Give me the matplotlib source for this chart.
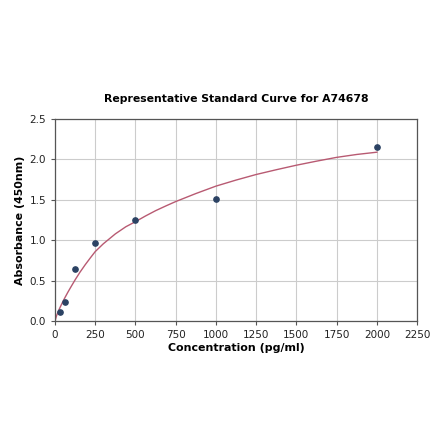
import matplotlib
matplotlib.use("Agg")
import matplotlib.pyplot as plt

# standard points
conc = [31.25, 62.5, 125, 250, 500, 1000, 2000]
absorb = [0.11, 0.24, 0.64, 0.96, 1.25, 1.51, 2.15]

# fitted curve
fit_x = [0, 10, 20, 31, 45, 62, 80, 100, 125, 155, 188, 220, 250, 300, 375, 440, 500,
         560, 625, 690, 750, 875, 1000, 1125, 1250, 1375, 1500, 1625, 1750, 1875, 2000]
fit_y = [0.0, 0.068, 0.118, 0.167, 0.225, 0.291, 0.357, 0.426, 0.51, 0.604, 0.698, 0.783, 0.86,
         0.956, 1.079, 1.167, 1.23, 1.298, 1.366, 1.426, 1.479, 1.578, 1.67, 1.745, 1.814,
         1.873, 1.929, 1.979, 2.026, 2.062, 2.09]

x_ticks = [0, 250, 500, 750, 1000, 1250, 1500, 1750, 2000, 2250]
y_ticks = [0.0, 0.5, 1.0, 1.5, 2.0, 2.5]

fig = plt.figure(figsize=(4.4, 4.41), dpi=100)
ax = fig.add_axes([0.125, 0.272, 0.823, 0.458])

ax.plot(fit_x, fit_y, color='#b85a72', linewidth=1.0, zorder=2)
ax.plot(conc, absorb, 'o', color='#2b4263', markersize=3.8, zorder=3)

ax.set_xlim(0, 2250)
ax.set_ylim(0, 2.5)
ax.set_xticks(x_ticks)
ax.set_yticks(y_ticks)
ax.set_yticklabels([f"{v:.1f}" for v in y_ticks])
ax.tick_params(labelsize=7.5, length=3, color='#555555', labelcolor='#222222')
ax.grid(True, color='#cccccc', linewidth=0.8)
ax.set_axisbelow(True)
for s in ax.spines.values():
    s.set_color('#555555')
    s.set_linewidth(0.9)

ax.set_title('Representative Standard Curve for A74678', fontsize=7.8, fontweight='bold', pad=12)
ax.set_xlabel('Concentration (pg/ml)', fontsize=7.9, fontweight='bold', labelpad=2)
ax.set_ylabel('Absorbance (450nm)', fontsize=7.9, fontweight='bold', labelpad=3)

fig.savefig('out.png', dpi=100)
